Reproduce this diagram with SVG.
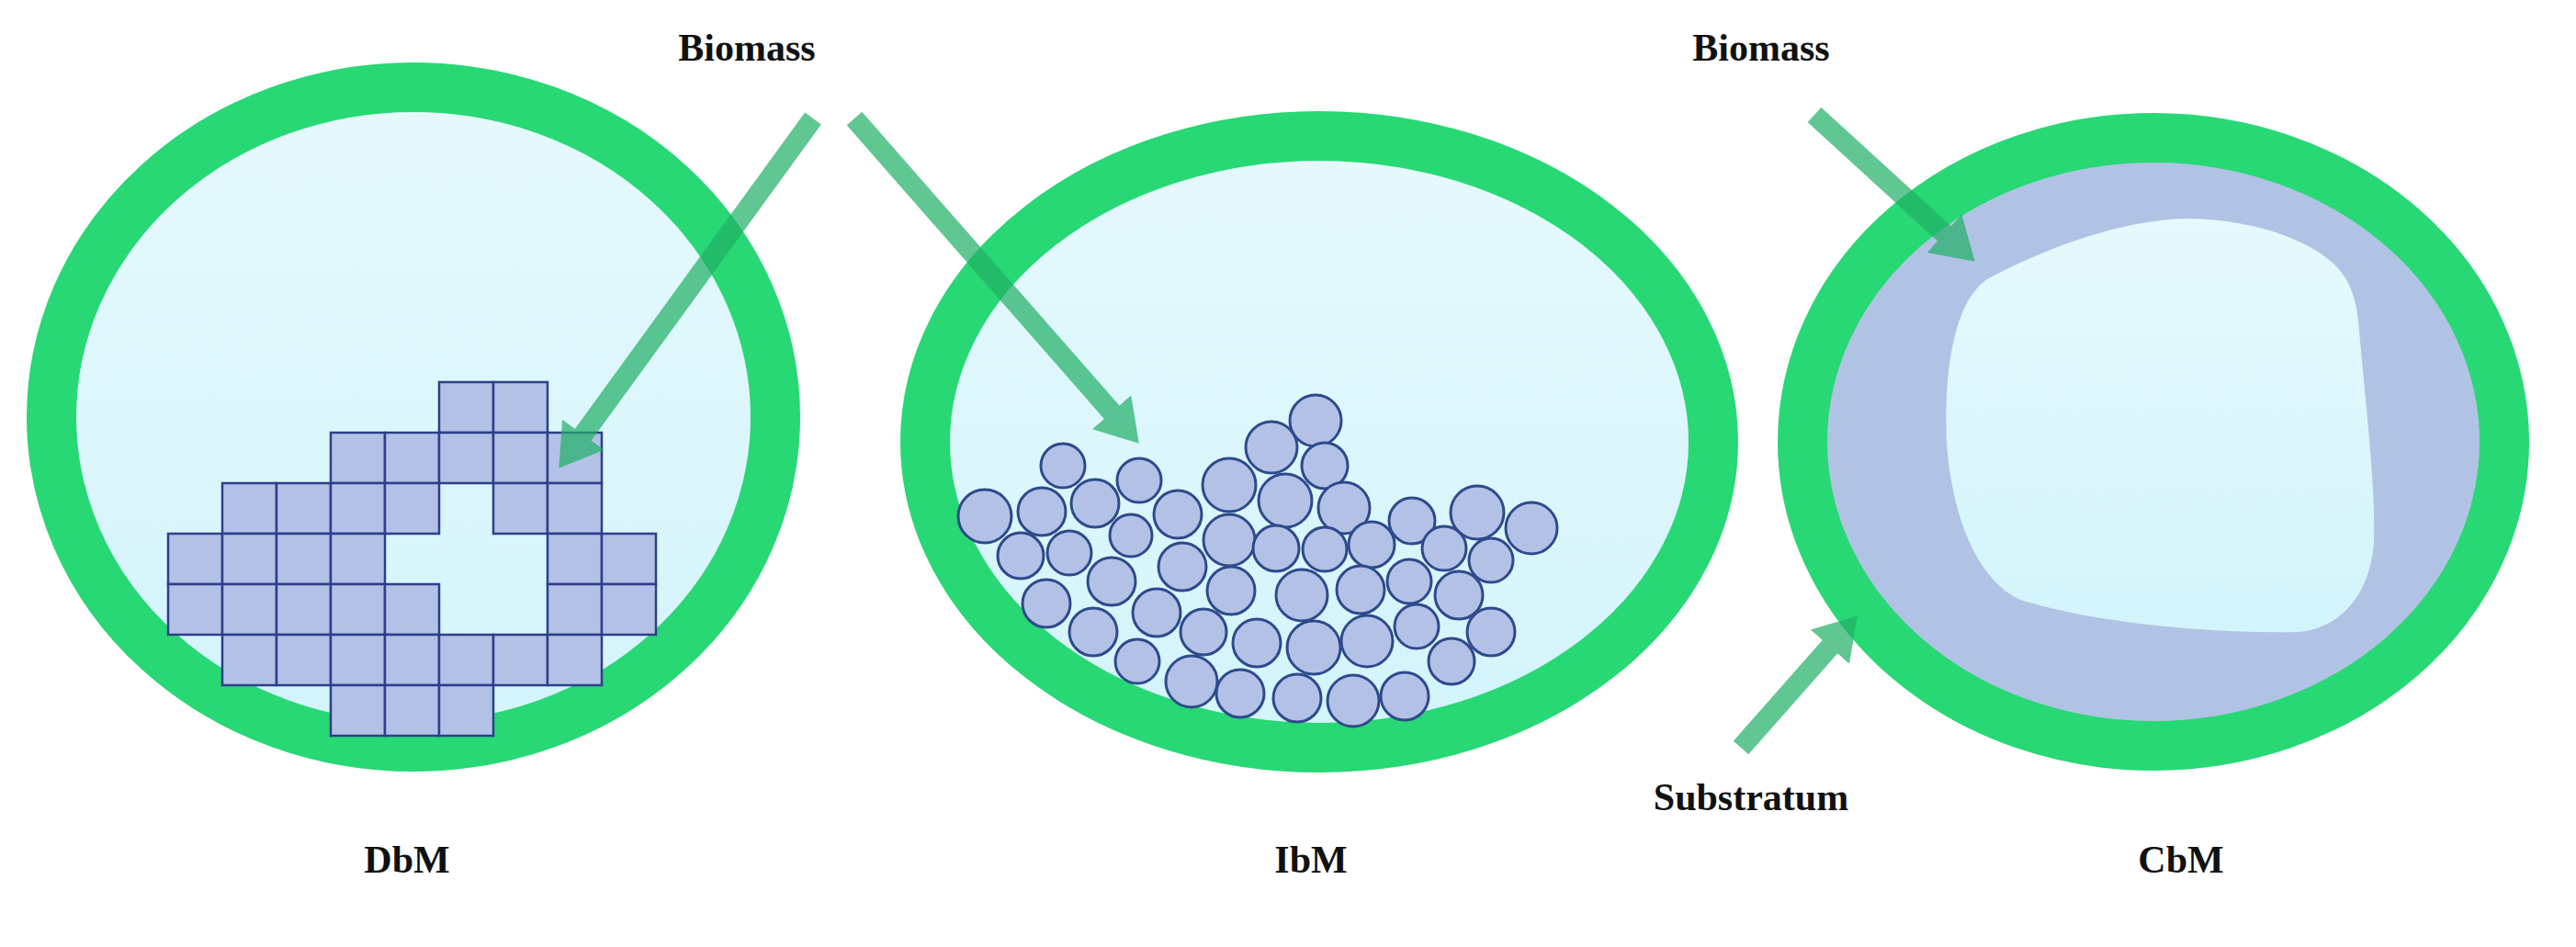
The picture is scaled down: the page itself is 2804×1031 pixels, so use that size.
<svg xmlns="http://www.w3.org/2000/svg" width="2804" height="1031" viewBox="0 0 2804 1031">
<style>
.ring{fill:url(#cy);stroke:#27d874;stroke-width:54}
.sq{fill:#b3c1e6;stroke:#2d3f8a;stroke-width:2.5}
.ball{fill:#b3c1e6;stroke:#2e4a8c;stroke-width:3}
.lbl{font-family:"Liberation Serif","DejaVu Serif",serif;font-weight:bold;font-size:42px;fill:#111;text-anchor:middle}
.arr{stroke:#1fb065;stroke-width:22;fill:none;marker-end:url(#ah)}
</style>
<defs>
<linearGradient id="cy" x1="0" y1="0" x2="0" y2="1"><stop offset="0" stop-color="#e6f9fd"/><stop offset="1" stop-color="#d2f4fb"/></linearGradient>
<marker id="ah" viewBox="0 0 45 56" markerWidth="2.05" markerHeight="2.55" refX="0.5" refY="28" orient="auto" markerUnits="strokeWidth"><path d="M0,0 L45,28 L0,56 z" fill="#1fb065"/></marker>
</defs>
<rect width="2804" height="1031" fill="#fff"/>
<g id="DbM">
<ellipse class="ring" cx="450" cy="454" rx="394" ry="359"/>
<g transform="translate(0,416)">
<rect class="sq" x="478" y="0" width="59" height="55"/><rect class="sq" x="537" y="0" width="59" height="55"/>
<rect class="sq" x="360" y="55" width="59" height="55"/><rect class="sq" x="419" y="55" width="59" height="55"/><rect class="sq" x="478" y="55" width="59" height="55"/><rect class="sq" x="537" y="55" width="59" height="55"/><rect class="sq" x="596" y="55" width="59" height="55"/>
<rect class="sq" x="242" y="110" width="59" height="55"/><rect class="sq" x="301" y="110" width="59" height="55"/><rect class="sq" x="360" y="110" width="59" height="55"/><rect class="sq" x="419" y="110" width="59" height="55"/><rect class="sq" x="537" y="110" width="59" height="55"/><rect class="sq" x="596" y="110" width="59" height="55"/>
<rect class="sq" x="183" y="165" width="59" height="55"/><rect class="sq" x="242" y="165" width="59" height="55"/><rect class="sq" x="301" y="165" width="59" height="55"/><rect class="sq" x="360" y="165" width="59" height="55"/><rect class="sq" x="596" y="165" width="59" height="55"/><rect class="sq" x="655" y="165" width="59" height="55"/>
<rect class="sq" x="183" y="220" width="59" height="55"/><rect class="sq" x="242" y="220" width="59" height="55"/><rect class="sq" x="301" y="220" width="59" height="55"/><rect class="sq" x="360" y="220" width="59" height="55"/><rect class="sq" x="419" y="220" width="59" height="55"/><rect class="sq" x="596" y="220" width="59" height="55"/><rect class="sq" x="655" y="220" width="59" height="55"/>
<rect class="sq" x="242" y="275" width="59" height="55"/><rect class="sq" x="301" y="275" width="59" height="55"/><rect class="sq" x="360" y="275" width="59" height="55"/><rect class="sq" x="419" y="275" width="59" height="55"/><rect class="sq" x="478" y="275" width="59" height="55"/><rect class="sq" x="537" y="275" width="59" height="55"/><rect class="sq" x="596" y="275" width="59" height="55"/>
<rect class="sq" x="360" y="330" width="59" height="55"/><rect class="sq" x="419" y="330" width="59" height="55"/><rect class="sq" x="478" y="330" width="59" height="55"/>
</g>
<text class="lbl" x="443" y="950">DbM</text>
</g>
<g id="IbM">
<ellipse class="ring" cx="1436" cy="481" rx="429" ry="333"/>
<g>
<circle class="ball" cx="1432" cy="458" r="28"/><circle class="ball" cx="1384" cy="487" r="28"/><circle class="ball" cx="1442" cy="507" r="25"/><circle class="ball" cx="1157" cy="507" r="24"/><circle class="ball" cx="1240" cy="523" r="24"/><circle class="ball" cx="1338" cy="528" r="29"/><circle class="ball" cx="1072" cy="562" r="29"/><circle class="ball" cx="1134" cy="557" r="26"/><circle class="ball" cx="1192" cy="548" r="26"/><circle class="ball" cx="1282" cy="560" r="26"/><circle class="ball" cx="1399" cy="545" r="29"/><circle class="ball" cx="1463" cy="553" r="28"/><circle class="ball" cx="1537" cy="567" r="25"/><circle class="ball" cx="1608" cy="558" r="29"/><circle class="ball" cx="1667" cy="575" r="28"/><circle class="ball" cx="1111" cy="605" r="25"/><circle class="ball" cx="1164" cy="602" r="24"/><circle class="ball" cx="1231" cy="583" r="23"/><circle class="ball" cx="1338" cy="588" r="28"/><circle class="ball" cx="1389" cy="597" r="25"/><circle class="ball" cx="1442" cy="598" r="24"/><circle class="ball" cx="1493" cy="593" r="25"/><circle class="ball" cx="1572" cy="597" r="24"/><circle class="ball" cx="1623" cy="610" r="24"/><circle class="ball" cx="1210" cy="633" r="26"/><circle class="ball" cx="1287" cy="617" r="26"/><circle class="ball" cx="1340" cy="643" r="26"/><circle class="ball" cx="1417" cy="648" r="28"/><circle class="ball" cx="1481" cy="642" r="26"/><circle class="ball" cx="1534" cy="633" r="24"/><circle class="ball" cx="1588" cy="648" r="26"/><circle class="ball" cx="1139" cy="657" r="26"/><circle class="ball" cx="1259" cy="667" r="26"/><circle class="ball" cx="1190" cy="688" r="26"/><circle class="ball" cx="1310" cy="688" r="25"/><circle class="ball" cx="1368" cy="700" r="26"/><circle class="ball" cx="1430" cy="705" r="29"/><circle class="ball" cx="1488" cy="698" r="28"/><circle class="ball" cx="1542" cy="682" r="24"/><circle class="ball" cx="1623" cy="688" r="26"/><circle class="ball" cx="1238" cy="720" r="24"/><circle class="ball" cx="1580" cy="720" r="25"/><circle class="ball" cx="1297" cy="742" r="28"/><circle class="ball" cx="1350" cy="755" r="26"/><circle class="ball" cx="1412" cy="760" r="26"/><circle class="ball" cx="1473" cy="763" r="28"/><circle class="ball" cx="1529" cy="758" r="26"/>
</g>
<text class="lbl" x="1427" y="950">IbM</text>
</g>
<g id="CbM">
<ellipse cx="2344" cy="481" rx="382" ry="331" fill="#b1c3e4" stroke="#27d874" stroke-width="54"/>
<path d="M2163,304 C2230,268 2310,240 2378,238 C2450,238 2510,260 2539,286 C2560,305 2566,330 2568,360 C2575,440 2586,530 2584,590 C2580,650 2545,684 2503,688 C2400,690 2280,678 2199,653 C2150,630 2125,560 2119,483 C2116,410 2125,330 2163,304 Z" fill="url(#cy)"/>
<text class="lbl" x="2374" y="950">CbM</text>
</g>
<g id="labels">
<text class="lbl" x="813" y="66">Biomass</text>
<text class="lbl" x="1917" y="66">Biomass</text>
<text class="lbl" x="1906" y="882">Substratum</text>
</g>
<g id="connectors" opacity="0.7">
<line class="arr" x1="885" y1="129" x2="634.5" y2="473.6"/>
<line class="arr" x1="930" y1="129" x2="1210.4" y2="449.1"/>
<line class="arr" x1="1975" y1="125" x2="2116.8" y2="254.6"/>
<line class="arr" x1="1895" y1="814" x2="1992.3" y2="703.8"/>
</g>
</svg>
